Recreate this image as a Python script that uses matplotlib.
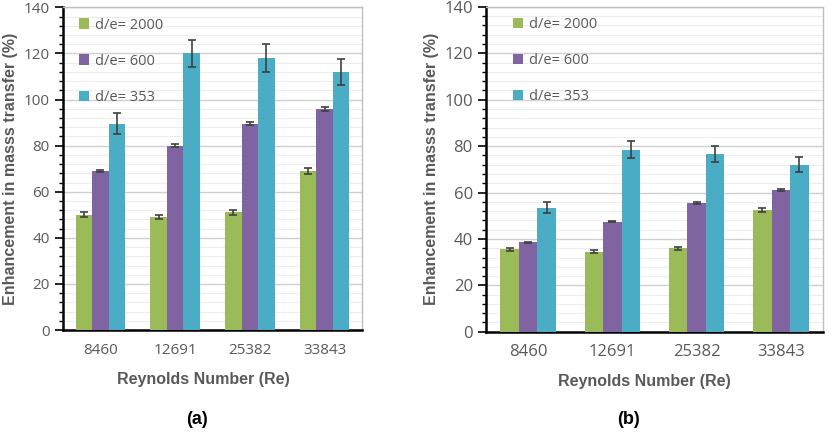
import numpy as np
import matplotlib.pyplot as plt
from matplotlib.ticker import MultipleLocator

# data
reynolds = ['8460', '12691', '25382', '33843']
series = ['d/e= 2000', 'd/e= 600', 'd/e= 353']
colors = ['#9BBB59', '#8064A2', '#4BACC6']

vals_a = [[50, 49, 51, 69], [69, 80, 89.5, 96], [89.5, 120, 118, 112]]
err_a = [[1.0, 1.0, 1.0, 1.3], [0.6, 0.6, 0.7, 0.8], [4.5, 6.0, 6.0, 5.5]]

vals_b = [[35.5, 34.5, 36, 52.5], [38.5, 47.5, 55.5, 61], [53.5, 78.5, 76.5, 72]]
err_b = [[0.7, 0.7, 0.7, 0.9], [0.4, 0.4, 0.4, 0.5], [2.5, 3.5, 3.5, 3.2]]

label_col = '#595959'
tick_col = '#595959'


def draw(ax, vals, errs, fs, leg_x):
    x = np.arange(len(reynolds))
    w = 0.22
    for i, (v, e) in enumerate(zip(vals, errs)):
        ax.bar(x + (i - 1) * w, v, w, color=colors[i], label=series[i], zorder=3,
               yerr=e, error_kw=dict(ecolor='#404040', elinewidth=1.2, capsize=3, capthick=1.2, zorder=4))
    ax.set_xlim(-0.5, len(reynolds) - 0.5)
    ax.set_ylim(0, 140)
    ax.set_xticks(x)
    ax.set_xticklabels(reynolds, fontsize=fs, color=tick_col, fontfamily='Open Sans')
    ax.yaxis.set_major_locator(MultipleLocator(20))
    ax.yaxis.set_minor_locator(MultipleLocator(4))
    for t in ax.get_yticklabels():
        t.set_fontsize(fs)
        t.set_color(tick_col)
        t.set_fontfamily('Open Sans')
    ax.tick_params(axis='x', length=0, pad=9)
    ax.tick_params(axis='y', which='major', direction='out', length=6, width=1.2, color='black')
    ax.tick_params(axis='y', which='minor', direction='out', length=3, width=1, color='black')
    ax.grid(axis='y', which='major', color='#D0D0D0', linewidth=1, zorder=0)
    ax.grid(axis='y', which='minor', color='#EDEDED', linewidth=0.8, zorder=0)
    ax.set_axisbelow(True)
    for s in ['left', 'bottom']:
        ax.spines[s].set_color('black')
        ax.spines[s].set_linewidth(1.8)
    for s in ['top', 'right']:
        ax.spines[s].set_color('#BFBFBF')
        ax.spines[s].set_linewidth(1)
    ax.set_ylabel('Enhancement in masss transfer (%)', fontsize=11.5, fontweight='bold',
                  color=label_col, fontfamily='Liberation Sans')
    ax.set_xlabel('Reynolds Number (Re)', fontsize=11.5, fontweight='bold',
                  color=label_col, fontfamily='Liberation Sans')
    ax.xaxis.set_label_coords(0.471, -0.13)
    leg = ax.legend(loc='upper left', frameon=False, fontsize=10.5, handlelength=0.7,
                    handleheight=0.7, handletextpad=0.4, labelspacing=1.45,
                    borderaxespad=0.3, bbox_to_anchor=(leg_x, 1.0))
    for t in leg.get_texts():
        t.set_color(tick_col)
        t.set_fontfamily('Open Sans')


fig = plt.figure(figsize=(8.31, 4.32), dpi=100)
ax1 = fig.add_axes([0.0758, 0.236, 0.3598, 0.747])
ax2 = fig.add_axes([0.5848, 0.232, 0.4056, 0.752])

draw(ax1, vals_a, err_a, 11, 0.02)
draw(ax2, vals_b, err_b, 12, 0.05)

fig.text(197 / 831, 1 - 420 / 432, '(a)', ha='center', va='center', fontsize=13,
         fontweight='bold', fontfamily='Liberation Sans')
fig.text(628 / 831, 1 - 420 / 432, '(b)', ha='center', va='center', fontsize=13,
         fontweight='bold', fontfamily='Liberation Sans')

fig.savefig('out.png', dpi=100)
